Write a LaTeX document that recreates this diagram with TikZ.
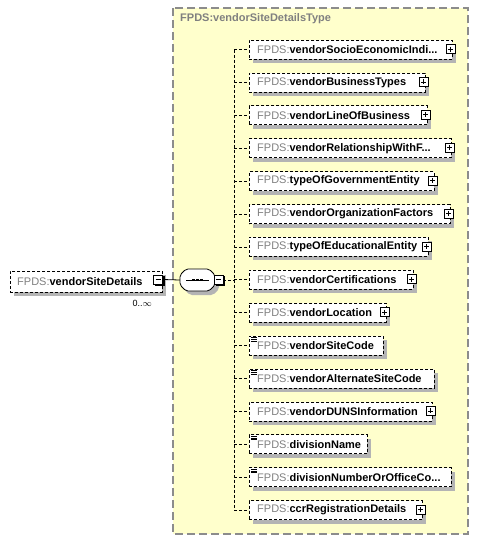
\documentclass[tikz,border=0pt]{standalone}
\usepackage{fontspec}
\setmainfont{Liberation Sans}
\definecolor{ylw}{RGB}{255,255,204}
\definecolor{shd}{RGB}{180,180,180}
\definecolor{pfx}{RGB}{128,128,128}
\definecolor{frm}{RGB}{140,140,140}
\newcommand\tdd{...}
\begin{document}
\begin{tikzpicture}[x=1pt,y=-1pt,
  elembox/.style={draw=black, dash pattern=on 3pt off 2pt, fill=white, line width=0.8pt, inner sep=0pt, minimum height=19pt},
  conn/.style={draw=black, dash pattern=on 3pt off 2pt, line width=0.8pt},
  solidconn/.style={draw=black, line width=0.8pt},
  lbl/.style={anchor=west, inner sep=0pt, font=\fontsize{11}{13}\selectfont},
  iconbox/.style={draw=black, fill=white, line width=0.8pt, minimum size=9pt, inner sep=0pt}
]
\useasboundingbox (0,0) rectangle (479,542);
% frame
\filldraw[fill=ylw, draw=frm, dash pattern=on 8pt off 4pt, line width=1.5pt] (173,8) rectangle (468,534);
\node[anchor=west, inner sep=0pt, text=pfx, font=\fontsize{11}{13}\selectfont\bfseries] (title) at (180,19) {FPDS:vendorSiteDetailsType};

% left element
\fill[shd] (14,275) rectangle (166,296);
\node[elembox, minimum width=152pt, minimum height=21pt, anchor=north west] (root) at (10,271) {};
\node[lbl] (roottxt) at (17,281.5) {\textcolor{pfx}{FPDS:}\textbf{vendorSiteDetails}};
\fill[black] (155,276) rectangle (164.5,285.5);
\node[iconbox] (rootminus) at (158,279.5) {};
\draw[line width=0.8pt] (155.5,279.5) -- (160.5,279.5);
\node[anchor=east, inner sep=0pt, font=\fontsize{9}{10}\selectfont] (card) at (152,303) {0..$\infty$};

% compositor
\node[inner sep=0pt, minimum width=35pt, minimum height=22pt] (seq) at (197.5,280) {};
\fill[shd, rounded corners=2pt] (190,273) -- (209,273) -- (219,279) -- (219,289) -- (213,295) -- (190,295) -- (184,289) -- (184,279) -- cycle;
\filldraw[fill=white, draw=black, line width=0.8pt, rounded corners=2pt] (186,269) -- (209,269) -- (215,275) -- (215,285) -- (209,291) -- (186,291) -- (180,285) -- (180,275) -- cycle;
\draw[line width=0.8pt] (186,280) -- (209,280);
\foreach \dx in {-4,0,4} \fill (197.5+\dx-1.3,278.7) rectangle ++(2.6,2.6);
\fill[black] (215.5,276) rectangle (225,285.5);
\node[iconbox] (seqminus) at (218.5,279.5) {};
\draw[line width=0.8pt] (216,279.5) -- (221,279.5);

\draw[solidconn] (rootminus.east) -- (seq.west);
\coordinate (hub) at (234,280);
\draw[conn] (seqminus.east |- hub) -- (hub);

% children
\foreach \i/\r/\t/\p/\d in {
 1/452/vendorSocioEconomicIndi\tdd/1/0,
 2/425/vendorBusinessTypes/1/0,
 3/427/vendorLineOfBusiness/1/0,
 4/451/vendorRelationshipWithF\tdd/1/0,
 5/434/typeOfGovernmentEntity/1/0,
 6/450/vendorOrganizationFactors/1/0,
 7/428/typeOfEducationalEntity/1/0,
 8/413/vendorCertifications/1/0,
 9/386/vendorLocation/1/0,
 10/383/vendorSiteCode/0/1,
 11/434/vendorAlternateSiteCode/0/1,
 12/432/vendorDUNSInformation/1/0,
 13/367/divisionName/0/1,
 14/451/divisionNumberOrOfficeCo\tdd/0/1,
 15/422/ccrRegistrationDetails/1/0}{
  \pgfmathsetmacro\yy{49.5+32.9*(\i-1)}
  \fill[shd] (253,\yy-5.5) rectangle (\r+4,\yy+13.5);
  \node[elembox, minimum width={\r-249}, anchor=west] (e\i) at (249,\yy) {};
  \node[lbl] (t\i) at (257,\yy) {\textcolor{pfx}{FPDS:}\textbf{\t}};
  \coordinate (j\i) at (234,\yy);
  \draw[conn] (j\i) -- (e\i.west);
  \ifnum\p=1
    \fill[black] (\r-5.5,\yy-5) rectangle (\r+4,\yy+4.5);
    \node[iconbox] (p\i) at (\r-1.5,\yy-0.5) {};
    \draw[line width=0.8pt] (\r-4,\yy-0.5) -- (\r+1,\yy-0.5) (\r-1.5,\yy-3) -- (\r-1.5,\yy+2);
  \fi
  \ifnum\d=1
    \draw[line width=0.6pt] (251,\yy-8) -- (257,\yy-8) (251,\yy-6.3) -- (257,\yy-6.3) (251,\yy-4.6) -- (257,\yy-4.6);
  \fi
}
\draw[conn] (j1) -- (j15);
\end{tikzpicture}
\end{document}
